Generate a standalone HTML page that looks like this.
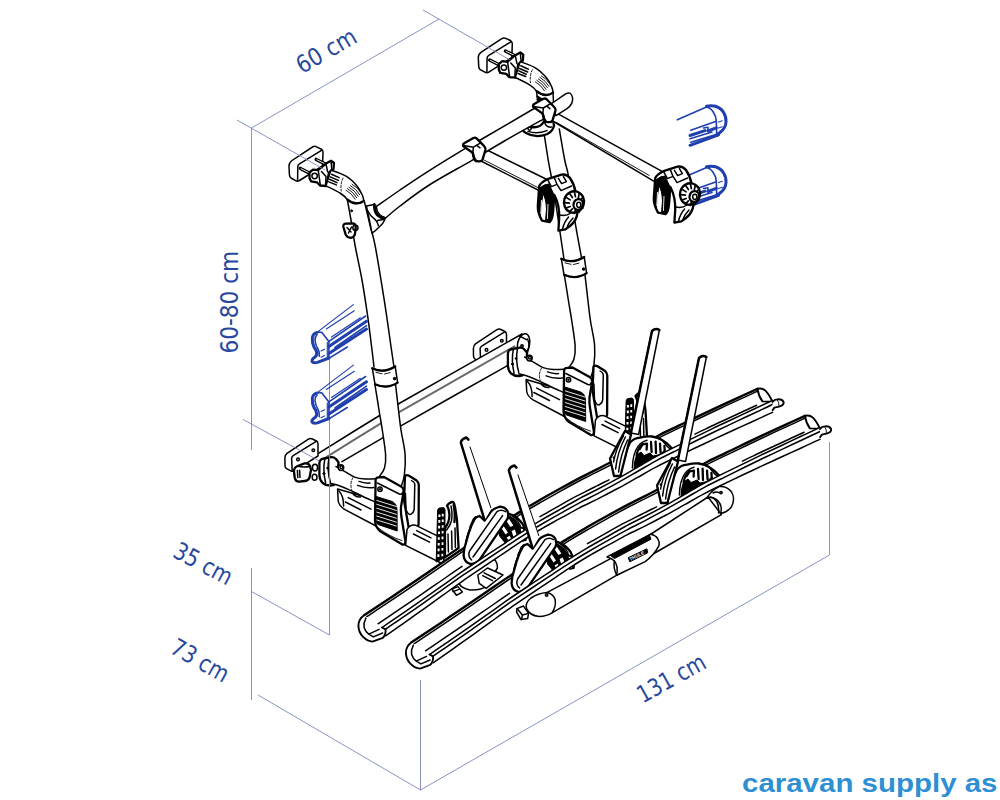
<!DOCTYPE html>
<html lang="no">
<head>
<meta charset="utf-8">
<title>Sykkelstativ - caravan supply as</title>
<style>
html,body{margin:0;padding:0;background:#fff;}
body{width:1000px;height:800px;overflow:hidden;position:relative;font-family:"Liberation Sans",sans-serif;}
svg{position:absolute;left:0;top:0;display:block;}
.dim{stroke:#7c88ba;stroke-width:0.9;fill:none;}
.k{stroke:#000;stroke-width:1.5;fill:none;stroke-linecap:round;stroke-linejoin:round;}
.kw{stroke:#000;stroke-width:1.5;fill:#fff;stroke-linecap:round;stroke-linejoin:round;}
.w{stroke:none;fill:#fff;}
.kt{stroke:#000;stroke-width:2.3;fill:none;stroke-linecap:round;stroke-linejoin:round;}
.ktw{stroke:#000;stroke-width:2.3;fill:#fff;stroke-linecap:round;stroke-linejoin:round;}
.kf{stroke:#000;stroke-width:1;fill:#000;stroke-linejoin:round;}
.g{stroke:none;fill:#555;}
.wl{stroke:#fff;stroke-width:0.9;fill:none;}
.th{stroke:#000;stroke-width:0.9;fill:none;stroke-linecap:round;}
.b{stroke:#1f3fae;stroke-width:1.6;fill:none;stroke-linecap:round;stroke-linejoin:round;}
.bt{stroke:#1f3fae;stroke-width:3;fill:none;stroke-linecap:round;stroke-linejoin:round;}
.bw{stroke:#1f3fae;stroke-width:1.6;fill:#fff;stroke-linecap:round;stroke-linejoin:round;}
.bn{stroke:#1f3fae;stroke-width:1.15;fill:none;stroke-linecap:round;}
.lbl{font-family:"DejaVu Sans Condensed","DejaVu Sans","Liberation Sans",sans-serif;font-size:24px;fill:#27489c;}
.wm{font-family:"Liberation Sans",sans-serif;font-weight:bold;font-size:25px;fill:#2f8fd3;}
</style>
</head>
<body>
<svg width="1000" height="800" viewBox="0 0 1000 800">
<rect x="0" y="0" width="1000" height="800" fill="#fff"/>
<g id="bluecaps">
<g id="bc1">
<path class="b" d="M677.3,119.8 L706.5,107"/>
<path class="bt" d="M706.5,106.3 Q711,105 715.6,106.3 Q721,108 723.6,112.5 Q726.4,117 726,122 Q725.8,128 720,132.5 L716.3,135.5"/>
<path class="b" d="M706.5,107 Q711,108 713.5,112.5 Q716,116 716.3,121 L716.7,134.8"/>
<path class="b" d="M690.8,130.3 L716.3,121.3"/>
<path class="bt" d="M690,135.5 L705,130.6 M708,131 L716.3,127.8"/>
<path class="b" d="M703.5,128 L708,127.3 L708,131"/>
<path class="b" d="M690,138.7 L712,132"/>
<path class="b" d="M690.8,142.3 L716,134.6"/>
<path class="bt" d="M690,145.3 L718.5,134.8"/>
<path class="bn" d="M718.5,122 L722.3,120.8 M718.5,128 L722.3,126.8"/>
</g>
<g id="bc2" transform="translate(0,60.5)">
<path class="b" d="M677.3,119.8 L706.5,107"/>
<path class="bt" d="M706.5,106.3 Q711,105 715.6,106.3 Q721,108 723.6,112.5 Q726.4,117 726,122 Q725.8,128 720,132.5 L716.3,135.5"/>
<path class="b" d="M706.5,107 Q711,108 713.5,112.5 Q716,116 716.3,121 L716.7,134.8"/>
<path class="b" d="M690.8,130.3 L716.3,121.3"/>
<path class="bt" d="M690,135.5 L705,130.6 M708,131 L716.3,127.8"/>
<path class="b" d="M703.5,128 L708,127.3 L708,131"/>
<path class="b" d="M690,138.7 L712,132"/>
<path class="b" d="M690.8,142.3 L716,134.6"/>
<path class="bt" d="M690,145.3 L718.5,134.8"/>
<path class="bn" d="M718.5,122 L722.3,120.8 M718.5,128 L722.3,126.8"/>
</g>
</g>
<g id="rack">
<path class="kw" d="M536.6,92 L553,92 L553.6,105 L541.5,100.4 L537.6,100 Z"/>
<path class="kt" d="M537.4,96.6 Q540,99.6 545,99.8 M537.6,99.6 L541.5,100.2"/>
<g id="brkTR" transform="translate(189.3,-108.4)">
<path class="kw" d="M289,166 Q289,162.5 292,160.5 L312.5,147 Q314.5,145.8 316.5,146.8 L321.5,149.2 Q323,150 323,152.5 L322.5,166 L299.5,180.5 Q297.5,181.8 295.5,180.6 L291,178 Q289.5,177 289.4,174.5 Z"/>
<path class="k" d="M297.6,180.5 L297.8,166.5 Q297.9,164.8 299.5,163.8 L321.5,150.3"/>
<path class="kt" d="M300.4,168.4 L311.6,174.2" style="stroke-width:3.4"/>
<path class="kt" d="M316.2,159.4 L326.8,164.8" style="stroke-width:3.4"/>
<path class="wl" d="M300.8,168.6 L311.4,174"/>
<path class="wl" d="M316.6,159.6 L326.6,164.6"/>
<path class="ktw" d="M309.5,172.5 L313,169.6 L318,170.2 L326,163.6 L331,160.8 L334,163 L333.5,169 L329,172.5 L326.5,186 L320,185.5 L317,182.3 L311,181.3 L309.5,178 Z"/>
<circle class="k" cx="314.6" cy="176" r="2.7"/>
<path class="k" d="M318.3,170.5 L320.3,185 M321.5,171.5 L326,176.5 L325.6,184.5 M326,164 L327.6,171.8 M331,161 L331.8,169.5"/>
<path class="kw" d="M330.9,170 C333.4,171 341.6,173.5 346,176.2 C350.4,178.8 354.2,182.7 357,185.9 C359.8,189.1 361.4,193 362.5,195.5 C363.6,198 363.6,200.1 363.8,201 Q355.6,206.5 347.4,199.6 C344,195 340,192.5 326,185.9 Z"/>
<path class="kt" d="M347.4,199.6 Q355.6,206.5 363.8,201"/>
<path class="k" d="M331.5,174.2 L339.1,177.6 M330.2,176.9 L338.4,180.4 M329.5,179.3 L337,182.6 M328.8,181.9 L336.4,184.9"/>
<path class="th" d="M343,178.2 Q340.2,184 341.2,191" stroke-dasharray="2.2 1.6"/>
<path class="th" d="M346,190.2 Q352,193.5 355.2,199.2 M347.5,188.7 Q353.5,192 356.7,197.7 M349,187.2 Q355,190.5 358.2,196.2 M350.5,185.7 Q356.5,189 359.7,194.7 M352,184.2 Q358,187.5 361.2,193.2"/>
</g>
<g id="postRU">
<path class="w" d="M544.2,134.5 C544.9,138.8 547.1,153.2 548.2,160 C549.3,166.8 549.7,167.5 551,175 C552.3,182.5 554.5,195.6 556,205 C557.5,214.4 558.6,222.5 559.9,231.5 C561.2,240.5 563.3,254.4 564,259 L581.5,257.6 C580.5,252.1 577.1,234.2 575.5,224.6 C573.9,215 573.2,208.5 572,200 C570.8,191.5 569.2,180.4 568,173.7 C566.8,167 566.2,167.4 564.7,160 C563.2,152.6 560.2,134.2 559.3,129 Z"/>
<path class="k" d="M544.2,134.5 C544.9,138.8 547.1,153.2 548.2,160 C549.3,166.8 549.7,167.5 551,175 C552.3,182.5 554.5,195.6 556,205 C557.5,214.4 558.6,222.5 559.9,231.5 C561.2,240.5 563.3,254.4 564,259"/>
<path class="k" d="M559.3,129 C560.2,134.2 563.2,152.6 564.7,160 C566.2,167.4 566.8,167 568,173.7 C569.2,180.4 570.8,191.5 572,200 C573.2,208.5 573.9,215 575.5,224.6 C577.1,234.2 580.5,252.1 581.5,257.6"/>
</g>
<g id="underclamp">
<path class="ktw" d="M522.4,127 Q521.6,130.5 526,133 Q534,137.6 543,135.4 Q552,133.6 554,126 L553,119.6 L544,121.5 Q540,128.5 531,127 Q527,123 522.4,127 Z"/>
<path class="k" d="M528,131.4 Q537,134.5 547,130.6 M544.4,122 Q546.5,128 551.5,127"/>
<circle class="k" cx="529.6" cy="128.6" r="1.6"/>
</g>
<g id="T3">
<path class="w" d="M486,149.5 L549,180.5 L539,190.5 L479,160 Z"/>
<path class="k" d="M486,149.5 L549,180.5"/>
<path class="k" d="M479,160 L539,190.5"/>
<path class="th" d="M484,160 L538,187.6"/>
</g>
<g id="T2">
<path class="w" d="M554,111.6 L662,171.3 L655,181.9 L551,120 Z"/>
<path class="k" d="M554,111.6 L662,171.3"/>
<path class="k" d="M551,120 L655,181.9"/>
<path class="th" d="M556.1,122.2 L649.2,175.4"/>
</g>
<g id="stub">
<path class="kw" d="M551,104 L566,93.6 Q571.5,91.2 572.6,98 Q573.2,104.4 567,108.6 L556,115.6 Z"/>
</g>
<g id="T1">
<path class="w" d="M375,207.5 C379.2,204.6 391.7,195.7 400,190 C408.3,184.3 414.2,180.2 425,173.3 C435.8,166.4 455.5,154.3 465,148.6 C474.5,142.9 470.3,145.8 482,139 C493.7,132.2 526.2,113.2 535,108 L543,119.3 C536.6,122.9 516.2,134.2 504.4,141 C492.6,147.8 484.4,153.1 472,160.3 C459.6,167.6 442,176.9 430,184.5 C418,192.1 407.5,200.3 400,206 C392.5,211.7 387.5,216.4 385,218.5 Z"/>
<path class="k" d="M375,207.5 C379.2,204.6 391.7,195.7 400,190 C408.3,184.3 414.2,180.2 425,173.3 C435.8,166.4 455.5,154.3 465,148.6 C474.5,142.9 470.3,145.8 482,139 C493.7,132.2 526.2,113.2 535,108"/>
<path class="k" d="M385,218.5 C387.5,216.4 392.5,211.7 400,206 C407.5,200.3 418,192.1 430,184.5 C442,176.9 459.6,167.6 472,160.3 C484.4,153.1 492.6,147.8 504.4,141 C516.2,134.2 536.6,122.9 543,119.3"/>
</g>
<g transform="translate(70,-39.2)">
<path class="ktw" d="M463.1,146 Q462.6,144 464.6,143 L473.4,138 Q475,137.2 476.6,138.4 L484.4,146.4 Q485.8,148 485.4,150 L482.6,159.4 Q481.6,161.6 479,161.4 L476,161 Q474.4,160.4 474,158.4 L472.6,152.8 Z"/>
<path class="k" d="M463.6,145.6 L473.4,147.2 L481,142.6 M473.4,147.2 L472.8,153 M477.4,145.8 L480,147.8"/>
<path class="kt" d="M472.8,153 Q473.6,158 476,161"/>
</g>
<g>
<path class="ktw" d="M463.1,146 Q462.6,144 464.6,143 L473.4,138 Q475,137.2 476.6,138.4 L484.4,146.4 Q485.8,148 485.4,150 L482.6,159.4 Q481.6,161.6 479,161.4 L476,161 Q474.4,160.4 474,158.4 L472.6,152.8 Z"/>
<path class="k" d="M463.6,145.6 L473.4,147.2 L481,142.6 M473.4,147.2 L472.8,153 M477.4,145.8 L480,147.8"/>
<path class="kt" d="M472.8,153 Q473.6,158 476,161"/>
</g>
<g id="knobC">
<path class="ktw" d="M539.2,186.2 Q541,182 547.5,179.2 L561.5,174.6 Q566.5,173.8 570,178 Q574.4,184.5 575.5,192 L577.6,212 Q576.6,221 570,226 L565.4,229.4 L558.4,230.6 L559.2,218 Q559.6,205 554.4,195 L553,212.4 Q552.4,219.6 549.6,222.2 L542,220.6 Q537.6,213 537.8,206 Z"/>
<path class="kf" d="M540,188 Q544,184 549,184 L553.6,194 L552.4,212 Q551.5,219 549.4,221.6 L545.5,221 L546.5,209 Q546,198 543,194 L541,206 L540.4,216 L538.4,209 Z"/>
<path class="wl" d="M541.5,200 L540.8,214 M544.5,202 L543.6,218 M548,204 L547.4,219"/>
<path class="k" d="M547.5,179.4 L551.4,186.6 L557,184.4 L554.2,177.2 M557,184.4 L561,190.6 L571.6,186 M558.4,178.4 L561.6,183.6 L566.4,181.6 L563.4,176.6"/>
<path class="k" d="M559.6,215 Q566,216.5 571,213 M562.4,229.6 Q564,222 568.6,217 M566.6,228.4 Q568.4,222.6 573,218"/>
<ellipse class="ktw" cx="574" cy="202" rx="10" ry="10.8" transform="rotate(18 574 202)"/>
<path class="kt" d="M581.4,203.2 L584.2,202.6 M580.6,206.5 L582.9,208 M578.4,208.9 L579.3,211.9 M575.4,209.8 L574.4,213.4 M572.4,208.9 L569.5,211.9 M570.2,206.5 L565.9,208 M569.4,203.2 L564.6,202.6 M570.2,199.9 L565.9,197.2 M572.4,197.5 L569.5,193.3 M575.4,196.6 L574.4,191.8 M578.4,197.5 L579.3,193.3 M580.6,199.9 L582.9,197.2" style="stroke-width:1.7"/>
<ellipse class="ktw" cx="578.2" cy="204.4" rx="4.6" ry="5.4" transform="rotate(18 578.2 204.4)"/>
<ellipse class="k" cx="578.8" cy="204.8" rx="2.1" ry="2.6"/>
</g>
<g id="knobR" transform="translate(116,-8)">
<path class="ktw" d="M539.2,186.2 Q541,182 547.5,179.2 L561.5,174.6 Q566.5,173.8 570,178 Q574.4,184.5 575.5,192 L577.6,212 Q576.6,221 570,226 L565.4,229.4 L558.4,230.6 L559.2,218 Q559.6,205 554.4,195 L553,212.4 Q552.4,219.6 549.6,222.2 L542,220.6 Q537.6,213 537.8,206 Z"/>
<path class="kf" d="M540,188 Q544,184 549,184 L553.6,194 L552.4,212 Q551.5,219 549.4,221.6 L545.5,221 L546.5,209 Q546,198 543,194 L541,206 L540.4,216 L538.4,209 Z"/>
<path class="wl" d="M541.5,200 L540.8,214 M544.5,202 L543.6,218 M548,204 L547.4,219"/>
<path class="k" d="M547.5,179.4 L551.4,186.6 L557,184.4 L554.2,177.2 M557,184.4 L561,190.6 L571.6,186 M558.4,178.4 L561.6,183.6 L566.4,181.6 L563.4,176.6"/>
<path class="k" d="M559.6,215 Q566,216.5 571,213 M562.4,229.6 Q564,222 568.6,217 M566.6,228.4 Q568.4,222.6 573,218"/>
<ellipse class="ktw" cx="574" cy="202" rx="10" ry="10.8" transform="rotate(18 574 202)"/>
<path class="kt" d="M581.4,203.2 L584.2,202.6 M580.6,206.5 L582.9,208 M578.4,208.9 L579.3,211.9 M575.4,209.8 L574.4,213.4 M572.4,208.9 L569.5,211.9 M570.2,206.5 L565.9,208 M569.4,203.2 L564.6,202.6 M570.2,199.9 L565.9,197.2 M572.4,197.5 L569.5,193.3 M575.4,196.6 L574.4,191.8 M578.4,197.5 L579.3,193.3 M580.6,199.9 L582.9,197.2" style="stroke-width:1.7"/>
<ellipse class="ktw" cx="578.2" cy="204.4" rx="4.6" ry="5.4" transform="rotate(18 578.2 204.4)"/>
<ellipse class="k" cx="578.8" cy="204.8" rx="2.1" ry="2.6"/>
</g>
<g id="plateR" transform="translate(188.5,-109.5)">
<path class="kw" d="M284.9,458 Q284.8,455 287,453.4 L308.4,439.2 Q310.4,438 312.4,439 L316.4,441 Q318,441.8 318,444 L318,456 L294.4,470.8 Q292.6,471.8 290.8,470.8 L286.6,468.6 Q285,467.6 285,465.4 Z"/>
<path class="k" d="M292.2,471 L291.6,458.6 Q291.6,456.6 293.2,455.6 L316.6,441.2"/>
<circle class="k" cx="313.3" cy="450.2" r="1.3"/><circle class="k" cx="298" cy="459.4" r="1.3"/>
</g>
<g id="backrail">
<path class="w" d="M318,453.6 L356,430 L400,403 L450,374.6 L500,346.4 L522,334 L512,363 L500,369.8 L450,398 L400,426.4 L381.5,438.6 L342,461.7 Z"/>
<path class="k" d="M318,453.6 L356,430 L400,403 L450,374.6 L500,346.4 L522,334"/>
<path class="k" d="M342,461.7 L381.5,438.6 L400,426.4 L450,398 L500,369.8 L512,363"/>
<path class="th" d="M324,458.6 L356,438.6 L400,411.6 L450,383.2 L514.5,346.4" style="stroke:#6a6a6a;stroke-width:2"/>
</g>
<g id="endcap">
<ellipse class="kw" cx="523.6" cy="344" rx="6" ry="10.4" transform="rotate(12 523.6 344)"/>
<path class="k" d="M519.5,336 L526.5,339.6 M527.5,339 Q530.4,345 527.6,352"/>
<circle class="k" cx="522" cy="346" r="1.2"/>
</g>
<g id="lowR" transform="translate(188.5,-109.5)">
<path class="ktw" d="M319.4,463 Q319.6,460 322,459 L331,457.2 Q334,457 336,459 L338.6,462.4 L338,468 L334,485 Q327,486.6 322.6,483 Q319.6,480 319.4,475 Z"/>
<path class="k" d="M329,457.6 Q326.6,470 330.6,483 M324.8,459.2 Q322.6,470 325.6,482.8"/>
<circle class="kf" cx="324" cy="473.6" r="1.1"/><circle class="kf" cx="327.6" cy="468" r="0.9"/>
<path class="kw" d="M337.6,489 L338.2,501 Q339,506 345,509.6 L376,526 L376,500 Z"/>
<path class="k" d="M348.2,497.6 L371,509.2 M345.4,502 L361,510"/>
<path class="k" d="M339,491 Q343.6,495.6 343.6,506"/>
<path class="k" d="M352.5,493 Q355.5,497.5 360.5,497"/>
<path class="w" d="M336,466.6 C337.5,467.4 341.9,469.9 345,471.6 C348.1,473.4 351.4,475.9 354.7,477.1 C358,478.3 361.3,478.7 365,479 C368.7,479.3 375,478.8 377,478.7 L376,502.5 C373.7,501.4 366.4,498.1 362,496 C357.6,493.9 353.6,491.8 349.9,490.1 C346.2,488.4 343.2,487.1 340,486 C336.8,484.9 332.2,483.8 330.6,483.4 Z"/>
<path class="k" d="M336,466.6 C337.5,467.4 341.9,469.9 345,471.6 C348.1,473.4 351.4,475.9 354.7,477.1 C358,478.3 361.3,478.7 365,479 C368.7,479.3 375,478.8 377,478.7"/>
<path class="k" d="M330.6,483.4 C332.2,483.8 336.8,484.9 340,486 C343.2,487.1 346.2,488.4 349.9,490.1 C353.6,491.8 357.6,493.9 362,496 C366.4,498.1 373.7,501.4 376,502.5"/>
<path class="th" d="M353,477.6 Q349.6,483 351.8,490.4" stroke-dasharray="2.4 1.6"/>
<path class="k" d="M357.6,485.4 Q365,488.4 374,487.4 M359,481.4 Q365,483.6 370,483"/>
<ellipse class="kw" cx="341" cy="467.6" rx="2.7" ry="2.9"/><ellipse class="k" cx="341.4" cy="467.2" rx="1.3" ry="1.4"/>
</g>
<g id="postRL" transform="translate(189.5,-109)">
<path class="w" d="M375,385 C375.7,389.2 377.8,402.5 379,410 C380.2,417.5 381.2,422.6 382.3,430 C383.4,437.4 385.2,448.1 385.6,454.4 C386,460.7 385.6,464.2 384.5,468 C383.4,471.8 379.9,475.5 379,477 L401,487 C401.6,485.1 403.6,480.9 404.3,475.5 C405,470.1 405.7,462 405.1,454.4 C404.6,446.8 402.1,437.4 401,430 C399.9,422.6 399.4,417.7 398.5,410 C397.6,402.3 396,388.3 395.5,384 Z"/>
<path class="k" d="M375,385 C375.7,389.2 377.8,402.5 379,410 C380.2,417.5 381.2,422.6 382.3,430 C383.4,437.4 385.2,448.1 385.6,454.4 C386,460.7 385.6,464.2 384.5,468 C383.4,471.8 379.9,475.5 379,477"/>
<path class="k" d="M395.5,384 C396,388.3 397.6,402.3 398.5,410 C399.4,417.7 399.9,422.6 401,430 C402.1,437.4 404.6,446.8 405.1,454.4 C405.7,462 405,470.1 404.3,475.5 C403.6,480.9 401.6,485.1 401,487"/>
</g>
<g id="collarR" transform="translate(189,-109.5)">
<path class="kw" d="M372.3,368.2 Q383,374 395.2,366.4 L397.6,382.6 Q387,389.6 375,384.2 Z"/>
<path class="kt" d="M372.3,368.2 Q383,374 395.2,366.4"/>
<path class="kt" d="M375,384.2 Q387,389.6 397.6,382.6"/>
<circle class="kf" cx="394.6" cy="378.6" r="1.3"/>
<path class="th" d="M376,372.4 L382,373.8 M384.5,374 L390,372.6"/>
</g>
<g id="housR" transform="translate(188.5,-109.5)">
<path class="ktw" d="M405,476 Q406.4,474.6 408.6,475.6 L416.6,480.6 Q418.6,482 418.8,485 L418.6,524 Q418.4,527 415.6,527.6 L409,529.4 L404,500 Z"/>
<path class="k" d="M405.4,493.4 L406,509.4 Q408,514.6 410.6,514.4 Q413.6,513 414.2,509.4 L414.8,484 Q414,481.4 411.6,480.6"/>
<path class="ktw" d="M375.6,480.6 Q375.4,477.4 378.6,477.4 L384,477 L401,486.4 Q404,488.4 403.6,491.4 L401,507 Q400.6,512 401.6,518 L405.4,541 Q405.6,545 402.4,544.6 L380.6,531.6 Q375.4,527.6 375,521 Z"/>
<path class="k" d="M377.4,483 L399.4,494 Q402,495 402.8,492"/>
<circle class="k" cx="380" cy="489.2" r="2.2"/><circle class="kf" cx="380" cy="489.2" r="0.8"/>
<path class="kf" d="M376,496.4 L392,501.4 Q396.6,503.4 397,509.6 L397.2,531 L377.8,524.4 Q376,523 376,520 Z"/>
<path class="wl" d="M376.4,500.3 L396.8,506.7 M376.4,504.2 L396.8,510.6 M376.4,508.1 L396.8,514.5 M376.4,512 L396.8,518.4 M376.4,515.9 L396.8,522.3 M376.4,519.8 L396.8,526.2"/>
<path class="th" d="M378,527.6 Q388,536 402,540.6"/>
<path class="kw" d="M407,529.4 Q410,524.4 415.4,525.2 L447,540.6 L443,564 L405.6,545.4 Z"/>
<path class="k" d="M413.4,534 L429.6,542.2 M416.6,530.6 L431,537.8"/>
</g>
<g id="strapR" transform="translate(188.5,-109.5)">
<path class="kf" d="M437.6,511 Q437.4,508.6 439.4,508 L443.4,507.6 Q445,508 445,510 L444.8,557.6 L436.2,562 Z"/>
<path class="w" d="M438.4,514.4 h2 v2.6 h-2 Z M441.8,513.8 h1.9 v2.6 h-1.9 Z M438.3,520.1 h2 v2.6 h-2 Z M441.8,519.5 h1.9 v2.6 h-1.9 Z M438.1,525.8 h2 v2.6 h-2 Z M441.7,525.2 h1.9 v2.6 h-1.9 Z M438,531.5 h2 v2.6 h-2 Z M441.7,530.9 h1.9 v2.6 h-1.9 Z M437.8,537.2 h2 v2.6 h-2 Z M441.6,536.6 h1.9 v2.6 h-1.9 Z M437.7,542.9 h2 v2.6 h-2 Z M441.6,542.3 h1.9 v2.6 h-1.9 Z M437.6,548.6 h2 v2.6 h-2 Z M441.5,548 h1.9 v2.6 h-1.9 Z M437.4,554.3 h2 v2.6 h-2 Z M441.4,553.7 h1.9 v2.6 h-1.9 Z"/>
<path class="ktw" d="M447,505.6 Q449.4,502 453,501.8 Q455,503.4 455,507 Q456,513 457,520 L458.6,548 L445,557.4 L445,528 Q449.6,522 449.4,515 Q449.4,509.6 447,505.6 Z"/>
<path class="k" d="M451,506 Q452.8,514 451.4,521 Q450,526 446.6,530 M448,534 L448.4,552 M451.6,531 L452,549.6 M455,528 L455.4,547.4"/>
<path class="kt" d="M453.6,505 Q455.4,513 454.4,522"/>
</g>
<g id="plateL">
<path class="kw" d="M284.9,458 Q284.8,455 287,453.4 L308.4,439.2 Q310.4,438 312.4,439 L316.4,441 Q318,441.8 318,444 L318,456 L294.4,470.8 Q292.6,471.8 290.8,470.8 L286.6,468.6 Q285,467.6 285,465.4 Z"/>
<path class="k" d="M292.2,471 L291.6,458.6 Q291.6,456.6 293.2,455.6 L316.6,441.2"/>
<circle class="k" cx="313.3" cy="450.2" r="1.3"/><circle class="k" cx="298" cy="459.4" r="1.3"/>
</g>
<g id="postLU">
<path class="w" d="M347.4,200 C348,203.3 349.7,212.5 351,220 C352.3,227.5 353.2,235 355,245 C356.8,255 359.9,268.3 362,280 C364.1,291.7 365.8,303.3 367.5,315 C369.2,326.7 370.9,341.3 372,350 C373.1,358.7 373.7,364.2 374,367 L394,367 C393.6,364.2 392.8,358.7 391.5,350 C390.2,341.3 388.2,326.7 386.5,315 C384.8,303.3 382.9,291.7 381,280 C379.1,268.3 376.8,254.2 375,245 C373.2,235.8 371.8,232.2 370,225 C368.2,217.8 365.4,205.8 364.5,202 Z"/>
<path class="k" d="M347.4,200 C348,203.3 349.7,212.5 351,220 C352.3,227.5 353.2,235 355,245 C356.8,255 359.9,268.3 362,280 C364.1,291.7 365.8,303.3 367.5,315 C369.2,326.7 370.9,341.3 372,350 C373.1,358.7 373.7,364.2 374,367"/>
<path class="k" d="M364.5,202 C365.4,205.8 368.2,217.8 370,225 C371.8,232.2 373.2,235.8 375,245 C376.8,254.2 379.1,268.3 381,280 C382.9,291.7 384.8,303.3 386.5,315 C388.2,326.7 390.2,341.3 391.5,350 C392.8,358.7 393.6,364.2 394,367"/>
<circle class="kf" cx="351.6" cy="210.8" r="1"/>
<path class="ktw" d="M343.4,227 Q342.8,224.2 345.6,223.6 L352.6,223.4 Q355.6,223.6 355.8,226.4 L355,234 Q354,237.6 350.6,237.8 Q347,237.6 345.6,234.4 Z"/>
<path class="k" d="M347,227.5 L351,232 M351.5,227 L348.5,233"/>
<circle class="k" cx="355.4" cy="227.8" r="2.6"/>
</g>
<g id="brkTL">
<path class="kw" d="M289,166 Q289,162.5 292,160.5 L312.5,147 Q314.5,145.8 316.5,146.8 L321.5,149.2 Q323,150 323,152.5 L322.5,166 L299.5,180.5 Q297.5,181.8 295.5,180.6 L291,178 Q289.5,177 289.4,174.5 Z"/>
<path class="k" d="M297.6,180.5 L297.8,166.5 Q297.9,164.8 299.5,163.8 L321.5,150.3"/>
<path class="kt" d="M300.4,168.4 L311.6,174.2" style="stroke-width:3.4"/>
<path class="kt" d="M316.2,159.4 L326.8,164.8" style="stroke-width:3.4"/>
<path class="wl" d="M300.8,168.6 L311.4,174"/>
<path class="wl" d="M316.6,159.6 L326.6,164.6"/>
<path class="ktw" d="M309.5,172.5 L313,169.6 L318,170.2 L326,163.6 L331,160.8 L334,163 L333.5,169 L329,172.5 L326.5,186 L320,185.5 L317,182.3 L311,181.3 L309.5,178 Z"/>
<circle class="k" cx="314.6" cy="176" r="2.7"/>
<path class="k" d="M318.3,170.5 L320.3,185 M321.5,171.5 L326,176.5 L325.6,184.5 M326,164 L327.6,171.8 M331,161 L331.8,169.5"/>
<path class="kw" d="M330.9,170 C333.4,171 341.6,173.5 346,176.2 C350.4,178.8 354.2,182.7 357,185.9 C359.8,189.1 361.4,193 362.5,195.5 C363.6,198 363.6,200.1 363.8,201 Q355.6,206.5 347.4,199.6 C344,195 340,192.5 326,185.9 Z"/>
<path class="kt" d="M347.4,199.6 Q355.6,206.5 363.8,201"/>
<path class="k" d="M331.5,174.2 L339.1,177.6 M330.2,176.9 L338.4,180.4 M329.5,179.3 L337,182.6 M328.8,181.9 L336.4,184.9"/>
<path class="th" d="M343,178.2 Q340.2,184 341.2,191" stroke-dasharray="2.2 1.6"/>
<path class="th" d="M346,190.2 Q352,193.5 355.2,199.2 M347.5,188.7 Q353.5,192 356.7,197.7 M349,187.2 Q355,190.5 358.2,196.2 M350.5,185.7 Q356.5,189 359.7,194.7 M352,184.2 Q358,187.5 361.2,193.2"/>
</g>
<g id="leftclamp">
<path class="kw" d="M366.4,206 L374.4,204.4 Q374.4,211 378,215 Q381,217.6 384.8,218.4 L384.8,219.8 Q383,224 379.6,226.6 Q375.6,231 372,233.2 L370.6,226 Z"/>
<path class="kt" d="M374.4,204.4 Q374,211.6 377.6,215.2 Q380.6,217.8 384,218.2" style="stroke-width:2.8"/>
<path class="k" d="M367.2,210 Q370,216 375.2,219.6 Q377.6,222.4 378.4,225.6 M376.2,206 Q376.6,211.6 379.6,214.6 Q382,216.8 384.8,217.4 M377.6,220.4 L383.6,219.4"/>
</g>
<g id="lowL">
<ellipse class="kw" cx="315" cy="467.6" rx="2.6" ry="3.4"/><ellipse class="kw" cx="314.6" cy="477.2" rx="2.4" ry="3"/>
<path class="ktw" d="M294,472 Q293.6,467.6 297.6,466 L304.6,463.4 Q308.6,462.8 310,466 L311,470 L309.6,477.4 Q308.6,480.6 305,481 L299,481.6 Q295.6,481.6 294.8,478 Z"/>
<path class="k" d="M297.4,470.6 L297.8,477.6 M299.6,470.2 L300,477.4 M297.6,466.2 Q303,467.5 310,466.4"/>
<path class="ktw" d="M319.4,463 Q319.6,460 322,459 L331,457.2 Q334,457 336,459 L338.6,462.4 L338,468 L334,485 Q327,486.6 322.6,483 Q319.6,480 319.4,475 Z"/>
<path class="k" d="M329,457.6 Q326.6,470 330.6,483 M324.8,459.2 Q322.6,470 325.6,482.8"/>
<circle class="kf" cx="324" cy="473.6" r="1.1"/><circle class="kf" cx="327.6" cy="468" r="0.9"/>
<path class="kw" d="M337.6,489 L338.2,501 Q339,506 345,509.6 L376,526 L376,500 Z"/>
<path class="k" d="M348.2,497.6 L371,509.2 M345.4,502 L361,510"/>
<path class="k" d="M339,491 Q343.6,495.6 343.6,506"/>
<path class="k" d="M352.5,493 Q355.5,497.5 360.5,497"/>
<path class="w" d="M336,466.6 C337.5,467.4 341.9,469.9 345,471.6 C348.1,473.4 351.4,475.9 354.7,477.1 C358,478.3 361.3,478.7 365,479 C368.7,479.3 375,478.8 377,478.7 L376,502.5 C373.7,501.4 366.4,498.1 362,496 C357.6,493.9 353.6,491.8 349.9,490.1 C346.2,488.4 343.2,487.1 340,486 C336.8,484.9 332.2,483.8 330.6,483.4 Z"/>
<path class="k" d="M336,466.6 C337.5,467.4 341.9,469.9 345,471.6 C348.1,473.4 351.4,475.9 354.7,477.1 C358,478.3 361.3,478.7 365,479 C368.7,479.3 375,478.8 377,478.7"/>
<path class="k" d="M330.6,483.4 C332.2,483.8 336.8,484.9 340,486 C343.2,487.1 346.2,488.4 349.9,490.1 C353.6,491.8 357.6,493.9 362,496 C366.4,498.1 373.7,501.4 376,502.5"/>
<path class="th" d="M353,477.6 Q349.6,483 351.8,490.4" stroke-dasharray="2.4 1.6"/>
<path class="k" d="M357.6,485.4 Q365,488.4 374,487.4 M359,481.4 Q365,483.6 370,483"/>
<ellipse class="kw" cx="341" cy="467.6" rx="2.7" ry="2.9"/><ellipse class="k" cx="341.4" cy="467.2" rx="1.3" ry="1.4"/>
</g>
<g id="postLL">
<path class="w" d="M375,385 C375.7,389.2 377.8,402.5 379,410 C380.2,417.5 381.2,422.6 382.3,430 C383.4,437.4 385.2,448.1 385.6,454.4 C386,460.7 385.6,464.2 384.5,468 C383.4,471.8 379.9,475.5 379,477 L401,487 C401.6,485.1 403.6,480.9 404.3,475.5 C405,470.1 405.7,462 405.1,454.4 C404.6,446.8 402.1,437.4 401,430 C399.9,422.6 399.4,417.7 398.5,410 C397.6,402.3 396,388.3 395.5,384 Z"/>
<path class="k" d="M375,385 C375.7,389.2 377.8,402.5 379,410 C380.2,417.5 381.2,422.6 382.3,430 C383.4,437.4 385.2,448.1 385.6,454.4 C386,460.7 385.6,464.2 384.5,468 C383.4,471.8 379.9,475.5 379,477"/>
<path class="k" d="M395.5,384 C396,388.3 397.6,402.3 398.5,410 C399.4,417.7 399.9,422.6 401,430 C402.1,437.4 404.6,446.8 405.1,454.4 C405.7,462 405,470.1 404.3,475.5 C403.6,480.9 401.6,485.1 401,487"/>
</g>
<g id="collarL">
<path class="kw" d="M372.3,368.2 Q383,374 395.2,366.4 L397.6,382.6 Q387,389.6 375,384.2 Z"/>
<path class="kt" d="M372.3,368.2 Q383,374 395.2,366.4"/>
<path class="kt" d="M375,384.2 Q387,389.6 397.6,382.6"/>
<circle class="kf" cx="394.6" cy="378.6" r="1.3"/>
<path class="th" d="M376,372.4 L382,373.8 M384.5,374 L390,372.6"/>
</g>
<g id="housL">
<path class="ktw" d="M405,476 Q406.4,474.6 408.6,475.6 L416.6,480.6 Q418.6,482 418.8,485 L418.6,524 Q418.4,527 415.6,527.6 L409,529.4 L404,500 Z"/>
<path class="k" d="M405.4,493.4 L406,509.4 Q408,514.6 410.6,514.4 Q413.6,513 414.2,509.4 L414.8,484 Q414,481.4 411.6,480.6"/>
<path class="ktw" d="M375.6,480.6 Q375.4,477.4 378.6,477.4 L384,477 L401,486.4 Q404,488.4 403.6,491.4 L401,507 Q400.6,512 401.6,518 L405.4,541 Q405.6,545 402.4,544.6 L380.6,531.6 Q375.4,527.6 375,521 Z"/>
<path class="k" d="M377.4,483 L399.4,494 Q402,495 402.8,492"/>
<circle class="k" cx="380" cy="489.2" r="2.2"/><circle class="kf" cx="380" cy="489.2" r="0.8"/>
<path class="kf" d="M376,496.4 L392,501.4 Q396.6,503.4 397,509.6 L397.2,531 L377.8,524.4 Q376,523 376,520 Z"/>
<path class="wl" d="M376.4,500.3 L396.8,506.7 M376.4,504.2 L396.8,510.6 M376.4,508.1 L396.8,514.5 M376.4,512 L396.8,518.4 M376.4,515.9 L396.8,522.3 M376.4,519.8 L396.8,526.2"/>
<path class="th" d="M378,527.6 Q388,536 402,540.6"/>
<path class="kw" d="M407,529.4 Q410,524.4 415.4,525.2 L447,540.6 L443,564 L405.6,545.4 Z"/>
<path class="k" d="M413.4,534 L429.6,542.2 M416.6,530.6 L431,537.8"/>
</g>
<g id="strapL">
<path class="kf" d="M437.6,511 Q437.4,508.6 439.4,508 L443.4,507.6 Q445,508 445,510 L444.8,557.6 L436.2,562 Z"/>
<path class="w" d="M438.4,514.4 h2 v2.6 h-2 Z M441.8,513.8 h1.9 v2.6 h-1.9 Z M438.3,520.1 h2 v2.6 h-2 Z M441.8,519.5 h1.9 v2.6 h-1.9 Z M438.1,525.8 h2 v2.6 h-2 Z M441.7,525.2 h1.9 v2.6 h-1.9 Z M438,531.5 h2 v2.6 h-2 Z M441.7,530.9 h1.9 v2.6 h-1.9 Z M437.8,537.2 h2 v2.6 h-2 Z M441.6,536.6 h1.9 v2.6 h-1.9 Z M437.7,542.9 h2 v2.6 h-2 Z M441.6,542.3 h1.9 v2.6 h-1.9 Z M437.6,548.6 h2 v2.6 h-2 Z M441.5,548 h1.9 v2.6 h-1.9 Z M437.4,554.3 h2 v2.6 h-2 Z M441.4,553.7 h1.9 v2.6 h-1.9 Z"/>
<path class="ktw" d="M447,505.6 Q449.4,502 453,501.8 Q455,503.4 455,507 Q456,513 457,520 L458.6,548 L445,557.4 L445,528 Q449.6,522 449.4,515 Q449.4,509.6 447,505.6 Z"/>
<path class="k" d="M451,506 Q452.8,514 451.4,521 Q450,526 446.6,530 M448,534 L448.4,552 M451.6,531 L452,549.6 M455,528 L455.4,547.4"/>
<path class="kt" d="M453.6,505 Q455.4,513 454.4,522"/>
</g>
<g id="cross">
<path class="kw" d="M457,560 L457.5,580 Q459,588 470,590 Q480,590.4 486,586.6 L497.4,568 Q497.6,563 494.6,559.6 Z"/>
<path class="kw" d="M477.8,575 L487.6,568 L503,575 L486.2,588.3 L479.2,583.4 Z"/>
<path class="k" d="M484.1,572.9 L495.3,578.5 M482.7,575.7 L492.5,580.6"/>
<path class="kw" d="M451.9,589 L458,586.6 L462.4,592 L456.4,595.3 Z"/>
<path class="k" d="M453,591.6 L459,589.4"/>
</g>
<g id="fronttube">
<path class="kw" d="M517,608.6 L523.4,606 L528.6,613.4 L527.6,618.6 L521,619.6 L516.6,612 Z"/>
<path class="k" d="M517,608.6 L522.4,615 L527.6,613.6 M522.4,615 L521.6,619.4"/>
<path class="kw" d="M546.8,592.6 L609.2,559.3 L653.4,532.5 L708,497 L721.4,514.6 L660,550 L616,575.6 L552,612.8 Z"/>
<path class="kw" d="M546.8,592.6 Q538,593.4 531,598 Q524.6,603 526.6,608.6 Q529.6,615.4 539,616.5 Q547,616 552,612.8 Q556.6,606 555,599 Q552.6,593.6 546.8,592.6 Z"/>
<circle class="k" cx="546.6" cy="595" r="1.2"/>
<path class="kw" d="M707,497.6 Q712,490 719,486.6 Q727,486 731.6,492 Q735.6,499 731.4,507 Q727,512.4 720.6,513.6 Q723,505 716.6,499.6 Q712,496.4 707,497.6 Z"/>
<path class="k" d="M710.6,497 Q719.6,499.6 718.6,513 M713,493 Q716,491.4 719,492.6"/>
<circle class="k" cx="721" cy="492.6" r="1.2"/>
<path class="kw" d="M607,556.9 L650.9,534.2 Q656,535.6 657.6,538.4 Q660,542 659,545.6 Q654,555 645.2,561.6 L616.6,575.2 Q613,567 614.4,561 Q612,558 607,556.9 Z"/>
<path class="kf" d="M610.3,555.3 L649.3,535 L651,539.2 L614.4,558.6 Z"/>
<path class="k" d="M614.4,561 Q618.6,566 616.6,575.2"/>
<path class="kf" d="M628.2,557.7 L646.9,548.8 L647.7,552.8 L629.8,561.8 Z"/>
<text transform="translate(630.2,560.9) rotate(-26)" font-family="Liberation Sans, sans-serif" font-size="4.6" font-weight="bold" font-style="italic" fill="#fff" textLength="16" lengthAdjust="spacingAndGlyphs">THULE</text>
</g>
<g id="r1b">
<path class="w" d="M364.1,615.3 C367.4,613.1 377.2,606.6 383.8,602.2 C390.3,597.8 396.9,593.5 403.4,589.1 C410,584.7 416.6,580.3 423.1,575.8 C429.7,571.4 436.2,566.8 442.8,562.3 C449.3,557.8 455.9,553.2 462.5,548.9 C469,544.5 475.6,540.3 482.1,536.1 C488.7,531.9 495.2,527.7 501.8,523.5 C508.3,519.3 514.9,514.9 521.5,510.9 C528,506.8 534.6,503.1 541.1,499.3 C547.7,495.5 554.2,491.9 560.8,488.3 C567.4,484.6 573.9,481 580.5,477.6 C587,474.1 593.6,471.1 600.1,467.7 C606.7,464.4 613.3,460.9 619.8,457.3 C626.4,453.7 632.9,449.9 639.5,446.2 C646,442.6 652.6,438.6 659.2,435.2 C665.7,431.7 672.3,428.8 678.8,425.6 C685.4,422.5 691.9,419.3 698.5,416.1 C705,413 711.6,409.9 718.2,406.8 C724.7,403.8 731.3,400.8 737.8,397.8 C744.4,394.8 754.2,390.3 757.5,388.8 L772.5,412.4 C769.3,413.8 759.6,418.2 753.2,421.2 C746.7,424.1 740.3,427.1 733.8,430 C727.4,433 720.9,435.9 714.5,438.9 C708,441.9 701.6,445 695.1,448 C688.7,451.1 682.2,454.2 675.8,457.3 C669.3,460.4 662.9,463.5 656.4,466.9 C650,470.3 643.5,474.1 637.1,477.7 C630.6,481.3 624.2,485 617.7,488.5 C611.3,492 604.8,495.3 598.4,498.6 C591.9,501.9 585.5,504.8 579,508.2 C572.6,511.6 566.2,515.2 559.7,518.7 C553.3,522.3 546.8,525.7 540.4,529.5 C533.9,533.3 527.5,537.4 521,541.6 C514.6,545.7 508.1,550.3 501.7,554.6 C495.2,558.9 488.8,563.3 482.3,567.6 C475.9,572 469.4,576.3 463,580.8 C456.5,585.3 450.1,590 443.6,594.7 C437.2,599.3 430.7,604 424.3,608.6 C417.8,613.2 411.4,617.7 404.9,622.3 C398.5,626.8 388.8,633.5 385.6,635.8 Z"/>
<path class="kt" d="M364.1,615.3 C367.4,613.1 377.2,606.6 383.8,602.2 C390.3,597.8 396.9,593.5 403.4,589.1 C410,584.7 416.6,580.3 423.1,575.8 C429.7,571.4 436.2,566.8 442.8,562.3 C449.3,557.8 455.9,553.2 462.5,548.9 C469,544.5 475.6,540.3 482.1,536.1 C488.7,531.9 495.2,527.7 501.8,523.5 C508.3,519.3 514.9,514.9 521.5,510.9 C528,506.8 534.6,503.1 541.1,499.3 C547.7,495.5 554.2,491.9 560.8,488.3 C567.4,484.6 573.9,481 580.5,477.6 C587,474.1 593.6,471.1 600.1,467.7 C606.7,464.4 613.3,460.9 619.8,457.3 C626.4,453.7 632.9,449.9 639.5,446.2 C646,442.6 652.6,438.6 659.2,435.2 C665.7,431.7 672.3,428.8 678.8,425.6 C685.4,422.5 691.9,419.3 698.5,416.1 C705,413 711.6,409.9 718.2,406.8 C724.7,403.8 731.3,400.8 737.8,397.8 C744.4,394.8 754.2,390.3 757.5,388.8" style="stroke-width:2.4"/>
<path class="k" d="M366,617.2 C369.3,615.1 379,608.5 385.6,604.2 C392.1,599.8 398.6,595.5 405.1,591.1 C411.6,586.7 418.1,582.3 424.6,577.8 C431.2,573.4 437.7,568.9 444.2,564.4 C450.7,559.9 457.2,555.3 463.8,550.9 C470.3,546.6 476.8,542.5 483.3,538.3 C489.8,534.1 496.3,529.9 502.9,525.7 C509.4,521.5 515.9,517.1 522.4,513.1 C528.9,509.1 535.4,505.4 542,501.6 C548.5,497.9 555,494.2 561.5,490.6 C568,487 574.5,483.4 581,480 C587.6,476.6 594.1,473.6 600.6,470.2 C607.1,466.8 613.6,463.4 620.1,459.8 C626.7,456.2 633.2,452.4 639.7,448.8 C646.2,445.1 652.7,441.1 659.2,437.7 C665.8,434.3 672.3,431.4 678.8,428.2 C685.3,425 691.8,421.9 698.4,418.7 C704.9,415.6 711.4,412.5 717.9,409.5 C724.4,406.4 730.9,403.4 737.5,400.4 C744,397.4 753.7,392.9 757,391.4"/>
<path class="k" d="M378,623.8 C380.3,622.2 387.3,617.5 392,614.3 C396.7,611.2 401.3,608.1 406,604.9 C410.7,601.8 415.3,598.6 420,595.4 C424.7,592.2 429.3,589 434,585.7 C438.7,582.5 443.3,579.3 448,576 C452.7,572.8 459.7,568 462,566.4"/>
<path class="k" d="M540,516.6 C541.9,515.5 547.7,512.3 551.5,510.1 C555.3,508 559.2,505.8 563,503.7 C566.8,501.5 570.7,499.2 574.5,497.2 C578.3,495.1 582.2,493.3 586,491.4 C589.8,489.4 593.7,487.5 597.5,485.6 C601.3,483.6 607.1,480.8 609,479.8"/>
<path class="k" d="M695,434.1 C696.7,433.2 701.8,430.7 705.3,429.1 C708.7,427.4 712.1,425.8 715.5,424.2 C719,422.6 722.4,421.1 725.8,419.5 C729.2,417.9 732.6,416.3 736.1,414.7 C739.5,413.1 742.9,411.5 746.3,410 C749.8,408.4 754.9,406 756.6,405.2"/>
<path class="kt" d="M757.5,388.8 Q762,387.6 765.4,390.6 Q769.4,394.6 772.5,402 M757.5,388.8 Q758.5,396 762.4,401.4 L771,401.6" style="stroke-width:1.9"/>
</g>
<g id="h1">
<path class="w" d="M625,431 L610,458.5 L614,476 L621,476 L672.5,452 L672,448 L662,440 L652,436.5 L640,437.6 L637.5,434 L632,433 Z"/>
<path class="kf" d="M634,470 Q634,461 636.6,455 L641,452 L644,455.6 L650,453 L653,456 L660,454.6 L664.6,450 L665,460 L640,472 Z"/>
<path class="kt" d="M639.6,449 L642.6,444.4 L647,443.6 L646.6,449.6 M651,442 L651.6,452 M655.6,441.6 L656,453 M660,443.6 L660.6,452.6 M664.4,446 L664.8,451"/>
<path class="kt" d="M636.6,455 Q638,447.6 642.6,444.4"/>
<path class="kt" d="M620.6,475 Q623,455 630,442.6 Q634,438 640,437.6 Q647,436 652,436.5 Q658,437.4 662,440 Q668,443.6 672,448.4"/>
<path class="k" d="M632.4,468 Q632.6,454 638,446.4 Q642,441.4 647,440.2"/>
<path class="k" d="M662,440 Q667,447 672.4,451"/>
<path class="ktw" d="M625,431 L631,434.6 L620.4,476 L614,476 L610,458.5 Z"/>
<path class="k" d="M625.4,437 Q617.4,452 615.6,469 M627.6,440 Q620.6,454 618.6,472 M623.4,436 Q615.4,450 613.6,462"/>
<circle class="kf" cx="613.8" cy="457.6" r="0.8"/>
<path class="kw" d="M652,331 Q655.6,327.6 659.4,330 L638.6,434.4 L630.8,433 Z"/>
<path class="kt" d="M631,432.6 L652,331 Q655.6,327.6 659.4,330" style="stroke-width:2.5"/>
</g>
<g id="hA">
<path class="w" d="M497,526 L503,516 L509,513.6 L516,517 L521,522 L525.4,530 L526,541 L519,546 L508,549 L497,536 Z"/>
<path class="kf" d="M498,527 L504,517.6 L510,516 L515,519.6 L519.6,526 L521,538 L514,544.6 L507.6,546 L499.6,536 Z"/>
<path class="w" d="M505.4,519.4 l3.4,-1 l4.6,7 l-3,1.6 Z M501,527.6 l2.6,-1.6 l4.4,6.6 l-2.4,1.8 Z M511.6,531 l3.2,-1.6 l2,5.6 l-3.4,1.8 Z M506.6,537.6 l3,-1.8 l2,3.4 l-3,1.8 Z"/>
<path class="kw" d="M519.8,527.6 Q523.4,527 524.6,530.6 L525.4,538.6 Q524.6,541.6 521.6,541 Z"/>
<path class="kt" d="M509,513.8 Q517,516 522.6,524 Q525.6,529 525.8,535 L525.6,540"/>
<path class="k" d="M512.6,516 Q519,521 521,528"/>
<path class="ktw" d="M475.4,517.6 L479.6,516 L484.6,520.6 L490.6,512 Q493,508.6 500,506.6 Q505.4,507 507.4,511 Q509,514.6 507.6,518.6 L479,560.6 Q475,564.6 469.6,563.6 Q464.4,562 463.6,555.6 Q463.6,549 466,542.6 Q468.4,533 471.6,525 Z"/>
<path class="k" d="M502.6,515.6 L473,557 M505.4,511.6 Q501,508.8 497,511.6 L469.6,551 Q467.4,556.6 471.6,560"/>
<path class="k" d="M473.6,520.6 Q467.6,532 465.6,543"/>
<path class="kt" d="M470.4,527 L473.6,519.4 L476,517.4"/>
<path class="w" d="M460.6,442.5 L466.3,437.5 L469.4,443 L491.4,508.6 L484.6,520.4 Z"/>
<path class="kt" d="M484.4,519.6 L460.8,442.5 Q461.8,438.8 466.3,437.5 L468.4,439.6" style="stroke-width:2.5"/>
<path class="th" d="M470,446.9 L490.8,507.6" style="stroke-width:1"/>
</g>
<g id="r1f">
<path class="w" d="M382.8,627.1 C386,624.8 395.8,618.1 402.3,613.7 C408.8,609.2 415.3,604.7 421.8,600.1 C428.3,595.6 434.8,591 441.3,586.4 C447.8,581.8 454.2,577.1 460.7,572.6 C467.2,568.1 473.7,563.8 480.2,559.5 C486.7,555.1 493.2,550.9 499.7,546.6 C506.2,542.3 512.7,537.8 519.2,533.7 C525.7,529.5 532.2,525.5 538.7,521.6 C545.2,517.7 551.7,514.1 558.2,510.5 C564.7,506.8 571.2,503 577.6,499.5 C584.1,496 590.6,492.9 597.1,489.5 C603.6,486.2 610.1,482.8 616.6,479.2 C623.1,475.6 629.6,471.8 636.1,468.1 C642.6,464.3 649.1,460.4 655.6,456.9 C662.1,453.4 668.6,450.2 675.1,446.9 C681.6,443.7 688.1,440.5 694.6,437.3 C701.1,434.2 707.6,431 714,427.8 C720.5,424.7 727,421.7 733.5,418.7 C740,415.6 746.5,412.6 753,409.5 C759.5,406.5 769.3,401.9 772.5,400.3 L772.5,412.4 C769.3,413.8 759.6,418.2 753.2,421.2 C746.7,424.1 740.3,427.1 733.8,430 C727.4,433 720.9,435.9 714.5,438.9 C708,441.9 701.6,445 695.1,448 C688.7,451.1 682.2,454.2 675.8,457.3 C669.3,460.4 662.9,463.5 656.4,466.9 C650,470.3 643.5,474.1 637.1,477.7 C630.6,481.3 624.2,485 617.7,488.5 C611.3,492 604.8,495.3 598.4,498.6 C591.9,501.9 585.5,504.8 579,508.2 C572.6,511.6 566.2,515.2 559.7,518.7 C553.3,522.3 546.8,525.7 540.4,529.5 C533.9,533.3 527.5,537.4 521,541.6 C514.6,545.7 508.1,550.3 501.7,554.6 C495.2,558.9 488.8,563.3 482.3,567.6 C475.9,572 469.4,576.3 463,580.8 C456.5,585.3 450.1,590 443.6,594.7 C437.2,599.3 430.7,604 424.3,608.6 C417.8,613.2 411.4,617.7 404.9,622.3 C398.5,626.8 388.8,633.5 385.6,635.8 Z"/>
<path class="k" d="M382.8,627.1 C386,624.8 395.8,618.1 402.3,613.7 C408.8,609.2 415.3,604.7 421.8,600.1 C428.3,595.6 434.8,591 441.3,586.4 C447.8,581.8 454.2,577.1 460.7,572.6 C467.2,568.1 473.7,563.8 480.2,559.5 C486.7,555.1 493.2,550.9 499.7,546.6 C506.2,542.3 512.7,537.8 519.2,533.7 C525.7,529.5 532.2,525.5 538.7,521.6 C545.2,517.7 551.7,514.1 558.2,510.5 C564.7,506.8 571.2,503 577.6,499.5 C584.1,496 590.6,492.9 597.1,489.5 C603.6,486.2 610.1,482.8 616.6,479.2 C623.1,475.6 629.6,471.8 636.1,468.1 C642.6,464.3 649.1,460.4 655.6,456.9 C662.1,453.4 668.6,450.2 675.1,446.9 C681.6,443.7 688.1,440.5 694.6,437.3 C701.1,434.2 707.6,431 714,427.8 C720.5,424.7 727,421.7 733.5,418.7 C740,415.6 746.5,412.6 753,409.5 C759.5,406.5 769.3,401.9 772.5,400.3"/>
<path class="k" d="M385.6,629.2 C388.8,626.9 398.6,620.3 405,615.8 C411.5,611.4 418,606.9 424.5,602.3 C431,597.8 437.4,593.2 443.9,588.6 C450.4,584 456.9,579.4 463.4,574.9 C469.8,570.5 476.3,566.3 482.8,562 C489.3,557.7 495.8,553.4 502.2,549.1 C508.7,544.8 515.2,540.4 521.7,536.3 C528.2,532.2 534.6,528.3 541.1,524.5 C547.6,520.7 554.1,517 560.6,513.4 C567,509.7 573.5,506 580,502.6 C586.5,499.1 593,496 599.4,492.6 C605.9,489.2 612.4,485.8 618.9,482.2 C625.4,478.6 631.8,474.7 638.3,471 C644.8,467.3 651.3,463.3 657.8,459.8 C664.2,456.4 670.7,453.3 677.2,450.1 C683.7,446.8 690.2,443.7 696.6,440.5 C703.1,437.3 709.6,434.1 716.1,431 C722.6,427.9 729,424.9 735.5,421.9 C742,418.8 748.5,415.8 755,412.7 C761.4,409.7 771.2,405.1 774.4,403.5"/>
<path class="k" d="M385.6,635.8 C388.8,633.5 398.5,626.8 404.9,622.3 C411.4,617.7 417.8,613.2 424.3,608.6 C430.7,604 437.2,599.3 443.6,594.7 C450.1,590 456.5,585.3 463,580.8 C469.4,576.3 475.9,572 482.3,567.6 C488.8,563.3 495.2,558.9 501.7,554.6 C508.1,550.3 514.6,545.7 521,541.6 C527.5,537.4 533.9,533.3 540.4,529.5 C546.8,525.7 553.3,522.3 559.7,518.7 C566.2,515.2 572.6,511.6 579,508.2 C585.5,504.8 591.9,501.9 598.4,498.6 C604.8,495.3 611.3,492 617.7,488.5 C624.2,485 630.6,481.3 637.1,477.7 C643.5,474.1 650,470.3 656.4,466.9 C662.9,463.5 669.3,460.4 675.8,457.3 C682.2,454.2 688.7,451.1 695.1,448 C701.6,445 708,441.9 714.5,438.9 C720.9,435.9 727.4,433 733.8,430 C740.3,427.1 746.7,424.1 753.2,421.2 C759.6,418.2 769.3,413.8 772.5,412.4"/>
<path class="ktw" d="M364.1,615.3 Q358.6,619 358.4,625.6 Q358.6,632.6 363.1,636.9 Q367.6,641.4 372.5,641.6 L382.8,637.8 Q386,634.6 385.6,629.4 L381.9,627.5" style="stroke-width:1.9"/>
<path class="k" d="M365.9,618.1 Q363.4,622.6 364.1,627.5 Q365.4,631.6 368.75,634.1 L373.4,636.9 M368.75,634.1 L379.1,629.4 M373.4,636.9 L382.6,633"/>
<path class="ktw" d="M772.5,402 Q774.6,399.4 777.2,399.4 Q782,398.8 783.6,402 Q784.4,405 779,406.6 L774.4,407.6 L772.6,410.2" style="stroke-width:1.9"/>
<path class="th" d="M777.2,399.6 Q779.4,402.6 779,406.6"/>
</g>
<g id="r2b" transform="translate(47.5,27)">
<path class="w" d="M364.1,615.3 C367.4,613.1 377.2,606.6 383.8,602.2 C390.3,597.8 396.9,593.5 403.4,589.1 C410,584.7 416.6,580.3 423.1,575.8 C429.7,571.4 436.2,566.8 442.8,562.3 C449.3,557.8 455.9,553.2 462.5,548.9 C469,544.5 475.6,540.3 482.1,536.1 C488.7,531.9 495.2,527.7 501.8,523.5 C508.3,519.3 514.9,514.9 521.5,510.9 C528,506.8 534.6,503.1 541.1,499.3 C547.7,495.5 554.2,491.9 560.8,488.3 C567.4,484.6 573.9,481 580.5,477.6 C587,474.1 593.6,471.1 600.1,467.7 C606.7,464.4 613.3,460.9 619.8,457.3 C626.4,453.7 632.9,449.9 639.5,446.2 C646,442.6 652.6,438.6 659.2,435.2 C665.7,431.7 672.3,428.8 678.8,425.6 C685.4,422.5 691.9,419.3 698.5,416.1 C705,413 711.6,409.9 718.2,406.8 C724.7,403.8 731.3,400.8 737.8,397.8 C744.4,394.8 754.2,390.3 757.5,388.8 L772.5,412.4 C769.3,413.8 759.6,418.2 753.2,421.2 C746.7,424.1 740.3,427.1 733.8,430 C727.4,433 720.9,435.9 714.5,438.9 C708,441.9 701.6,445 695.1,448 C688.7,451.1 682.2,454.2 675.8,457.3 C669.3,460.4 662.9,463.5 656.4,466.9 C650,470.3 643.5,474.1 637.1,477.7 C630.6,481.3 624.2,485 617.7,488.5 C611.3,492 604.8,495.3 598.4,498.6 C591.9,501.9 585.5,504.8 579,508.2 C572.6,511.6 566.2,515.2 559.7,518.7 C553.3,522.3 546.8,525.7 540.4,529.5 C533.9,533.3 527.5,537.4 521,541.6 C514.6,545.7 508.1,550.3 501.7,554.6 C495.2,558.9 488.8,563.3 482.3,567.6 C475.9,572 469.4,576.3 463,580.8 C456.5,585.3 450.1,590 443.6,594.7 C437.2,599.3 430.7,604 424.3,608.6 C417.8,613.2 411.4,617.7 404.9,622.3 C398.5,626.8 388.8,633.5 385.6,635.8 Z"/>
<path class="kt" d="M364.1,615.3 C367.4,613.1 377.2,606.6 383.8,602.2 C390.3,597.8 396.9,593.5 403.4,589.1 C410,584.7 416.6,580.3 423.1,575.8 C429.7,571.4 436.2,566.8 442.8,562.3 C449.3,557.8 455.9,553.2 462.5,548.9 C469,544.5 475.6,540.3 482.1,536.1 C488.7,531.9 495.2,527.7 501.8,523.5 C508.3,519.3 514.9,514.9 521.5,510.9 C528,506.8 534.6,503.1 541.1,499.3 C547.7,495.5 554.2,491.9 560.8,488.3 C567.4,484.6 573.9,481 580.5,477.6 C587,474.1 593.6,471.1 600.1,467.7 C606.7,464.4 613.3,460.9 619.8,457.3 C626.4,453.7 632.9,449.9 639.5,446.2 C646,442.6 652.6,438.6 659.2,435.2 C665.7,431.7 672.3,428.8 678.8,425.6 C685.4,422.5 691.9,419.3 698.5,416.1 C705,413 711.6,409.9 718.2,406.8 C724.7,403.8 731.3,400.8 737.8,397.8 C744.4,394.8 754.2,390.3 757.5,388.8" style="stroke-width:2.4"/>
<path class="k" d="M366,617.2 C369.3,615.1 379,608.5 385.6,604.2 C392.1,599.8 398.6,595.5 405.1,591.1 C411.6,586.7 418.1,582.3 424.6,577.8 C431.2,573.4 437.7,568.9 444.2,564.4 C450.7,559.9 457.2,555.3 463.8,550.9 C470.3,546.6 476.8,542.5 483.3,538.3 C489.8,534.1 496.3,529.9 502.9,525.7 C509.4,521.5 515.9,517.1 522.4,513.1 C528.9,509.1 535.4,505.4 542,501.6 C548.5,497.9 555,494.2 561.5,490.6 C568,487 574.5,483.4 581,480 C587.6,476.6 594.1,473.6 600.6,470.2 C607.1,466.8 613.6,463.4 620.1,459.8 C626.7,456.2 633.2,452.4 639.7,448.8 C646.2,445.1 652.7,441.1 659.2,437.7 C665.8,434.3 672.3,431.4 678.8,428.2 C685.3,425 691.8,421.9 698.4,418.7 C704.9,415.6 711.4,412.5 717.9,409.5 C724.4,406.4 730.9,403.4 737.5,400.4 C744,397.4 753.7,392.9 757,391.4"/>
<path class="k" d="M378,623.8 C380.3,622.2 387.3,617.5 392,614.3 C396.7,611.2 401.3,608.1 406,604.9 C410.7,601.8 415.3,598.6 420,595.4 C424.7,592.2 429.3,589 434,585.7 C438.7,582.5 443.3,579.3 448,576 C452.7,572.8 459.7,568 462,566.4"/>
<path class="k" d="M540,516.6 C541.9,515.5 547.7,512.3 551.5,510.1 C555.3,508 559.2,505.8 563,503.7 C566.8,501.5 570.7,499.2 574.5,497.2 C578.3,495.1 582.2,493.3 586,491.4 C589.8,489.4 593.7,487.5 597.5,485.6 C601.3,483.6 607.1,480.8 609,479.8"/>
<path class="k" d="M695,434.1 C696.7,433.2 701.8,430.7 705.3,429.1 C708.7,427.4 712.1,425.8 715.5,424.2 C719,422.6 722.4,421.1 725.8,419.5 C729.2,417.9 732.6,416.3 736.1,414.7 C739.5,413.1 742.9,411.5 746.3,410 C749.8,408.4 754.9,406 756.6,405.2"/>
<path class="kt" d="M757.5,388.8 Q762,387.6 765.4,390.6 Q769.4,394.6 772.5,402 M757.5,388.8 Q758.5,396 762.4,401.4 L771,401.6" style="stroke-width:1.9"/>
</g>
<g id="h2" transform="translate(47,27)">
<path class="w" d="M625,431 L610,458.5 L614,476 L621,476 L672.5,452 L672,448 L662,440 L652,436.5 L640,437.6 L637.5,434 L632,433 Z"/>
<path class="kf" d="M634,470 Q634,461 636.6,455 L641,452 L644,455.6 L650,453 L653,456 L660,454.6 L664.6,450 L665,460 L640,472 Z"/>
<path class="kt" d="M639.6,449 L642.6,444.4 L647,443.6 L646.6,449.6 M651,442 L651.6,452 M655.6,441.6 L656,453 M660,443.6 L660.6,452.6 M664.4,446 L664.8,451"/>
<path class="kt" d="M636.6,455 Q638,447.6 642.6,444.4"/>
<path class="kt" d="M620.6,475 Q623,455 630,442.6 Q634,438 640,437.6 Q647,436 652,436.5 Q658,437.4 662,440 Q668,443.6 672,448.4"/>
<path class="k" d="M632.4,468 Q632.6,454 638,446.4 Q642,441.4 647,440.2"/>
<path class="k" d="M662,440 Q667,447 672.4,451"/>
<path class="ktw" d="M625,431 L631,434.6 L620.4,476 L614,476 L610,458.5 Z"/>
<path class="k" d="M625.4,437 Q617.4,452 615.6,469 M627.6,440 Q620.6,454 618.6,472 M623.4,436 Q615.4,450 613.6,462"/>
<circle class="kf" cx="613.8" cy="457.6" r="0.8"/>
<path class="kw" d="M652,331 Q655.6,327.6 659.4,330 L638.6,434.4 L630.8,433 Z"/>
<path class="kt" d="M631,432.6 L652,331 Q655.6,327.6 659.4,330" style="stroke-width:2.5"/>
</g>
<g id="hB" transform="translate(48,28)">
<path class="w" d="M497,526 L503,516 L509,513.6 L516,517 L521,522 L525.4,530 L526,541 L519,546 L508,549 L497,536 Z"/>
<path class="kf" d="M498,527 L504,517.6 L510,516 L515,519.6 L519.6,526 L521,538 L514,544.6 L507.6,546 L499.6,536 Z"/>
<path class="w" d="M505.4,519.4 l3.4,-1 l4.6,7 l-3,1.6 Z M501,527.6 l2.6,-1.6 l4.4,6.6 l-2.4,1.8 Z M511.6,531 l3.2,-1.6 l2,5.6 l-3.4,1.8 Z M506.6,537.6 l3,-1.8 l2,3.4 l-3,1.8 Z"/>
<path class="kw" d="M519.8,527.6 Q523.4,527 524.6,530.6 L525.4,538.6 Q524.6,541.6 521.6,541 Z"/>
<path class="kt" d="M509,513.8 Q517,516 522.6,524 Q525.6,529 525.8,535 L525.6,540"/>
<path class="k" d="M512.6,516 Q519,521 521,528"/>
<path class="ktw" d="M475.4,517.6 L479.6,516 L484.6,520.6 L490.6,512 Q493,508.6 500,506.6 Q505.4,507 507.4,511 Q509,514.6 507.6,518.6 L479,560.6 Q475,564.6 469.6,563.6 Q464.4,562 463.6,555.6 Q463.6,549 466,542.6 Q468.4,533 471.6,525 Z"/>
<path class="k" d="M502.6,515.6 L473,557 M505.4,511.6 Q501,508.8 497,511.6 L469.6,551 Q467.4,556.6 471.6,560"/>
<path class="k" d="M473.6,520.6 Q467.6,532 465.6,543"/>
<path class="kt" d="M470.4,527 L473.6,519.4 L476,517.4"/>
<path class="w" d="M460.6,442.5 L466.3,437.5 L469.4,443 L491.4,508.6 L484.6,520.4 Z"/>
<path class="kt" d="M484.4,519.6 L460.8,442.5 Q461.8,438.8 466.3,437.5 L468.4,439.6" style="stroke-width:2.5"/>
<path class="th" d="M470,446.9 L490.8,507.6" style="stroke-width:1"/>
</g>
<g id="r2f" transform="translate(47.5,27)">
<path class="w" d="M382.8,627.1 C386,624.8 395.8,618.1 402.3,613.7 C408.8,609.2 415.3,604.7 421.8,600.1 C428.3,595.6 434.8,591 441.3,586.4 C447.8,581.8 454.2,577.1 460.7,572.6 C467.2,568.1 473.7,563.8 480.2,559.5 C486.7,555.1 493.2,550.9 499.7,546.6 C506.2,542.3 512.7,537.8 519.2,533.7 C525.7,529.5 532.2,525.5 538.7,521.6 C545.2,517.7 551.7,514.1 558.2,510.5 C564.7,506.8 571.2,503 577.6,499.5 C584.1,496 590.6,492.9 597.1,489.5 C603.6,486.2 610.1,482.8 616.6,479.2 C623.1,475.6 629.6,471.8 636.1,468.1 C642.6,464.3 649.1,460.4 655.6,456.9 C662.1,453.4 668.6,450.2 675.1,446.9 C681.6,443.7 688.1,440.5 694.6,437.3 C701.1,434.2 707.6,431 714,427.8 C720.5,424.7 727,421.7 733.5,418.7 C740,415.6 746.5,412.6 753,409.5 C759.5,406.5 769.3,401.9 772.5,400.3 L772.5,412.4 C769.3,413.8 759.6,418.2 753.2,421.2 C746.7,424.1 740.3,427.1 733.8,430 C727.4,433 720.9,435.9 714.5,438.9 C708,441.9 701.6,445 695.1,448 C688.7,451.1 682.2,454.2 675.8,457.3 C669.3,460.4 662.9,463.5 656.4,466.9 C650,470.3 643.5,474.1 637.1,477.7 C630.6,481.3 624.2,485 617.7,488.5 C611.3,492 604.8,495.3 598.4,498.6 C591.9,501.9 585.5,504.8 579,508.2 C572.6,511.6 566.2,515.2 559.7,518.7 C553.3,522.3 546.8,525.7 540.4,529.5 C533.9,533.3 527.5,537.4 521,541.6 C514.6,545.7 508.1,550.3 501.7,554.6 C495.2,558.9 488.8,563.3 482.3,567.6 C475.9,572 469.4,576.3 463,580.8 C456.5,585.3 450.1,590 443.6,594.7 C437.2,599.3 430.7,604 424.3,608.6 C417.8,613.2 411.4,617.7 404.9,622.3 C398.5,626.8 388.8,633.5 385.6,635.8 Z"/>
<path class="k" d="M382.8,627.1 C386,624.8 395.8,618.1 402.3,613.7 C408.8,609.2 415.3,604.7 421.8,600.1 C428.3,595.6 434.8,591 441.3,586.4 C447.8,581.8 454.2,577.1 460.7,572.6 C467.2,568.1 473.7,563.8 480.2,559.5 C486.7,555.1 493.2,550.9 499.7,546.6 C506.2,542.3 512.7,537.8 519.2,533.7 C525.7,529.5 532.2,525.5 538.7,521.6 C545.2,517.7 551.7,514.1 558.2,510.5 C564.7,506.8 571.2,503 577.6,499.5 C584.1,496 590.6,492.9 597.1,489.5 C603.6,486.2 610.1,482.8 616.6,479.2 C623.1,475.6 629.6,471.8 636.1,468.1 C642.6,464.3 649.1,460.4 655.6,456.9 C662.1,453.4 668.6,450.2 675.1,446.9 C681.6,443.7 688.1,440.5 694.6,437.3 C701.1,434.2 707.6,431 714,427.8 C720.5,424.7 727,421.7 733.5,418.7 C740,415.6 746.5,412.6 753,409.5 C759.5,406.5 769.3,401.9 772.5,400.3"/>
<path class="k" d="M385.6,629.2 C388.8,626.9 398.6,620.3 405,615.8 C411.5,611.4 418,606.9 424.5,602.3 C431,597.8 437.4,593.2 443.9,588.6 C450.4,584 456.9,579.4 463.4,574.9 C469.8,570.5 476.3,566.3 482.8,562 C489.3,557.7 495.8,553.4 502.2,549.1 C508.7,544.8 515.2,540.4 521.7,536.3 C528.2,532.2 534.6,528.3 541.1,524.5 C547.6,520.7 554.1,517 560.6,513.4 C567,509.7 573.5,506 580,502.6 C586.5,499.1 593,496 599.4,492.6 C605.9,489.2 612.4,485.8 618.9,482.2 C625.4,478.6 631.8,474.7 638.3,471 C644.8,467.3 651.3,463.3 657.8,459.8 C664.2,456.4 670.7,453.3 677.2,450.1 C683.7,446.8 690.2,443.7 696.6,440.5 C703.1,437.3 709.6,434.1 716.1,431 C722.6,427.9 729,424.9 735.5,421.9 C742,418.8 748.5,415.8 755,412.7 C761.4,409.7 771.2,405.1 774.4,403.5"/>
<path class="k" d="M385.6,635.8 C388.8,633.5 398.5,626.8 404.9,622.3 C411.4,617.7 417.8,613.2 424.3,608.6 C430.7,604 437.2,599.3 443.6,594.7 C450.1,590 456.5,585.3 463,580.8 C469.4,576.3 475.9,572 482.3,567.6 C488.8,563.3 495.2,558.9 501.7,554.6 C508.1,550.3 514.6,545.7 521,541.6 C527.5,537.4 533.9,533.3 540.4,529.5 C546.8,525.7 553.3,522.3 559.7,518.7 C566.2,515.2 572.6,511.6 579,508.2 C585.5,504.8 591.9,501.9 598.4,498.6 C604.8,495.3 611.3,492 617.7,488.5 C624.2,485 630.6,481.3 637.1,477.7 C643.5,474.1 650,470.3 656.4,466.9 C662.9,463.5 669.3,460.4 675.8,457.3 C682.2,454.2 688.7,451.1 695.1,448 C701.6,445 708,441.9 714.5,438.9 C720.9,435.9 727.4,433 733.8,430 C740.3,427.1 746.7,424.1 753.2,421.2 C759.6,418.2 769.3,413.8 772.5,412.4"/>
<path class="ktw" d="M364.1,615.3 Q358.6,619 358.4,625.6 Q358.6,632.6 363.1,636.9 Q367.6,641.4 372.5,641.6 L382.8,637.8 Q386,634.6 385.6,629.4 L381.9,627.5" style="stroke-width:1.9"/>
<path class="k" d="M365.9,618.1 Q363.4,622.6 364.1,627.5 Q365.4,631.6 368.75,634.1 L373.4,636.9 M368.75,634.1 L379.1,629.4 M373.4,636.9 L382.6,633"/>
<path class="ktw" d="M772.5,402 Q774.6,399.4 777.2,399.4 Q782,398.8 783.6,402 Q784.4,405 779,406.6 L774.4,407.6 L772.6,410.2" style="stroke-width:1.9"/>
<path class="th" d="M777.2,399.6 Q779.4,402.6 779,406.6"/>
</g>
</g>
<g id="dims" class="dim">
<line x1="237" y1="120" x2="325" y2="170"/>
<line x1="251.5" y1="128" x2="439" y2="19"/>
<line x1="423" y1="10" x2="510" y2="60"/>
<line x1="251.5" y1="128" x2="251.5" y2="450"/>
<line x1="243" y1="419.5" x2="319.5" y2="461"/>
<line x1="329.5" y1="357" x2="329.5" y2="635"/>
<line x1="251.5" y1="568" x2="251.5" y2="700"/>
<line x1="251.5" y1="591.5" x2="329.5" y2="635"/>
<line x1="258" y1="695" x2="420.5" y2="790"/>
<line x1="420.5" y1="680" x2="420.5" y2="790"/>
<line x1="420.5" y1="790" x2="829.5" y2="555"/>
<line x1="829.5" y1="442" x2="829.5" y2="555"/>
</g>

<g id="blueparts">
<g id="br1">
<path class="bn" d="M316.6,332.6 L353.4,304.6"/>
<path class="bt" d="M316.6,332.6 Q312.6,334 312.3,338 Q312,343 314,347 Q316.8,350.6 316.8,353.4 Q316.6,356.6 313.6,358 Q311.6,359.6 312,361.6 Q313,363.4 317.5,362.4 L328.9,358"/>
<path class="b" d="M317,334.6 Q314.6,337 315,340 Q315.4,345 318,349 Q319.6,351.6 319.3,356.3"/>
<path class="b" d="M316.6,332.6 Q319.6,331.6 321.9,332.6 L328.9,341.4 L328.9,358.4"/>
<path class="bn" d="M327.3,342.4 L327.3,358.8"/>
<path class="bn" d="M326.3,329 L354.3,310.75 M331.5,337 L360.4,317.8"/>
<path class="b" d="M328.9,341.4 L365.6,316"/>
<path class="bt" d="M328.9,346.6 L366.5,321.25"/>
<path class="b" d="M335,347.5 L366.5,325.6"/>
<path class="bt" d="M328.9,353.6 L366.5,329.1"/>
<path class="b" d="M328.9,358.4 L347.3,347"/>
<path class="bn" d="M321,351 L324.5,349.3 M321,357.2 L324.5,355.4"/>
</g>
<g id="br2" transform="translate(0,60.5)">
<path class="bn" d="M316.6,332.6 L353.4,304.6"/>
<path class="bt" d="M316.6,332.6 Q312.6,334 312.3,338 Q312,343 314,347 Q316.8,350.6 316.8,353.4 Q316.6,356.6 313.6,358 Q311.6,359.6 312,361.6 Q313,363.4 317.5,362.4 L328.9,358"/>
<path class="b" d="M317,334.6 Q314.6,337 315,340 Q315.4,345 318,349 Q319.6,351.6 319.3,356.3"/>
<path class="b" d="M316.6,332.6 Q319.6,331.6 321.9,332.6 L328.9,341.4 L328.9,358.4"/>
<path class="bn" d="M327.3,342.4 L327.3,358.8"/>
<path class="bn" d="M326.3,329 L354.3,310.75 M331.5,337 L360.4,317.8"/>
<path class="b" d="M328.9,341.4 L365.6,316"/>
<path class="bt" d="M328.9,346.6 L366.5,321.25"/>
<path class="b" d="M335,347.5 L366.5,325.6"/>
<path class="bt" d="M328.9,353.6 L366.5,329.1"/>
<path class="b" d="M328.9,358.4 L347.3,347"/>
<path class="bn" d="M321,351 L324.5,349.3 M321,357.2 L324.5,355.4"/>
</g>
</g>
<g id="labels">
<text class="lbl" transform="translate(302,74.2) rotate(-30)" textLength="65.5" lengthAdjust="spacingAndGlyphs">60 cm</text>
<text class="lbl" transform="translate(238,353.5) rotate(-90)" textLength="102.6" lengthAdjust="spacingAndGlyphs">60-80 cm</text>
<text class="lbl" transform="translate(171.5,556.3) rotate(28)" textLength="63" lengthAdjust="spacingAndGlyphs">35 cm</text>
<text class="lbl" transform="translate(168.8,652.2) rotate(29.5)" textLength="62.6" lengthAdjust="spacingAndGlyphs">73 cm</text>
<text class="lbl" transform="translate(642.8,703.7) rotate(-29.3)" textLength="74.6" lengthAdjust="spacingAndGlyphs">131 cm</text>
<text class="wm" x="742" y="792" textLength="255.5" lengthAdjust="spacingAndGlyphs">caravan supply as</text>
</g>
</svg>
</body>
</html>
